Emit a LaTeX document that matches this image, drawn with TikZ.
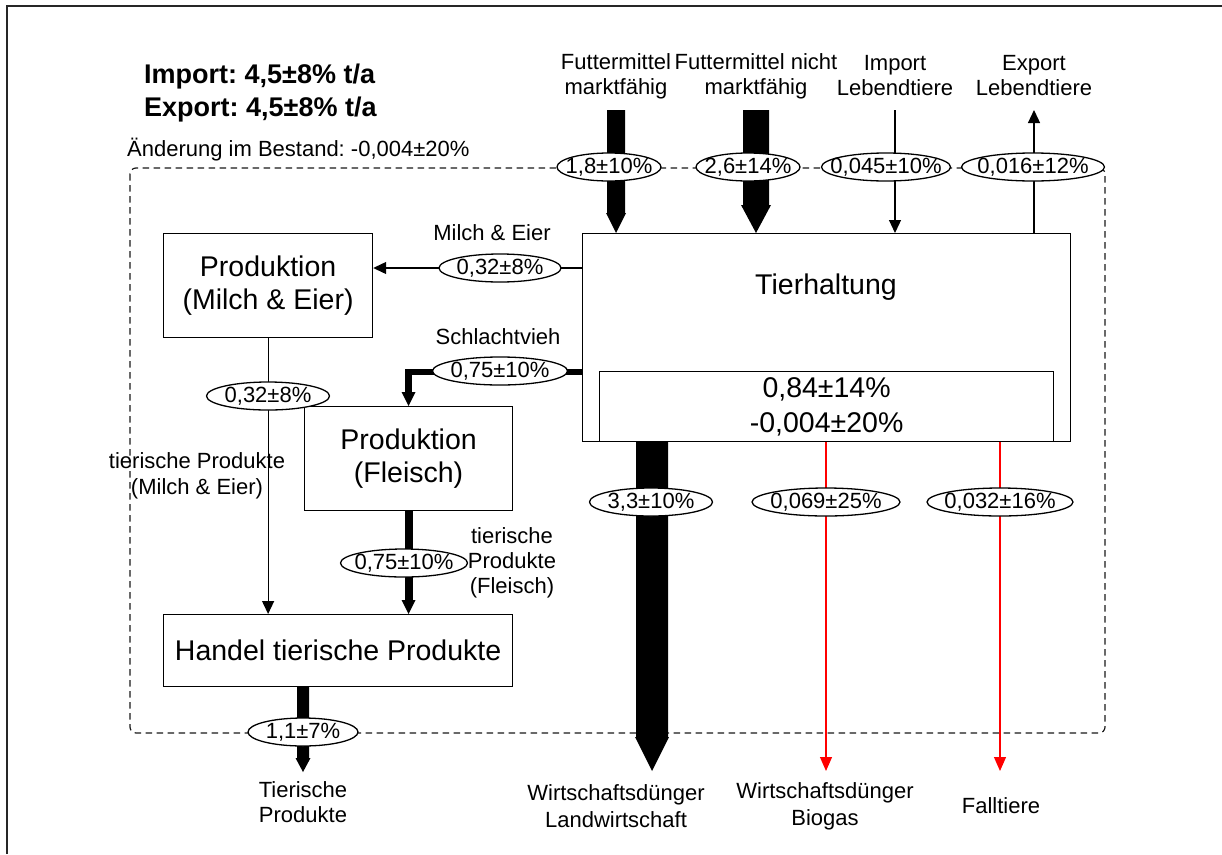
\documentclass[tikz,border=0pt]{standalone}
\usepackage{fontspec}
\setmainfont{Liberation Sans}
\usetikzlibrary{arrows.meta,calc,shapes.geometric}

% downward block arrow: from, to, shaft width, head width, head length
\newcommand\blockdown[5]{%
  \fill let \p1=(#1), \p2=(#2) in
    (\x1-#3/2,\y1) -- (\x1+#3/2,\y1) -- (\x1+#3/2,\y2+#5) -- (\x1+#4/2,\y2+#5)
    -- (\x1,\y2) -- (\x1-#4/2,\y2+#5) -- (\x1-#3/2,\y2+#5) -- cycle;}

\frenchspacing
\begin{document}
\begin{tikzpicture}[x=1pt,y=-1pt,
  lbl/.style={font=\fontsize{22}{25}\selectfont, align=center, inner sep=0pt},
  boxtxt/.style={font=\fontsize{28.5}{33}\selectfont, align=center, inner sep=0pt},
  proc/.style={draw, line width=1.2pt, inner sep=0pt, boxtxt},
  val/.style={ellipse, draw, fill=white, line width=1.3pt, inner xsep=-40pt, inner ysep=-12pt,
    minimum height=28pt, font=\fontsize{22}{25}\selectfont},
  flow/.style={line width=1.2pt, -{Triangle[width=12pt,length=13pt]}},
  loss/.style={red, line width=1.2pt, -{Triangle[width=12pt,length=14pt]}},
  bold/.style={font=\bfseries\fontsize{27}{30}\selectfont, inner sep=0pt, anchor=west},
]
\useasboundingbox (0,0) rectangle (1222,854);

% page frame
\draw[line width=1.3pt, black!85] (7,854) -- (7,6) -- (1222,6);

% system boundary
\draw[line width=1.2pt, black!90, dash pattern=on 6.5pt off 4.5pt, rounded corners=6pt]
  (130,168) rectangle (1105,733);

% processes
\node[proc, anchor=north west, minimum width=488pt, minimum height=208pt] (tier) at (582,233) {};
\node[boxtxt] (tiertxt) at (826,287) {Tierhaltung};
\node[proc, anchor=north west, minimum width=454pt, minimum height=70pt,
  font=\fontsize{28.5}{35}\selectfont] (lager) at (599,371) {0,84±14\%\\-0,004±20\%};
\node[proc, anchor=north west, minimum width=209pt, minimum height=104pt] (pme) at (163,233)
  {Produktion\\(Milch \& Eier)};
\node[proc, anchor=north west, minimum width=208pt, minimum height=104pt] (pfl) at (304,406)
  {Produktion\\(Fleisch)};
\node[proc, anchor=north west, minimum width=349pt, minimum height=72pt] (han) at (163,614)
  {Handel tierische Produkte};

% inflows / outflows at the top
\coordinate (f1) at (616,110);
\coordinate (f2) at (756,110);
\coordinate (imp) at (895,110);
\coordinate (exp) at (1034,110);
\blockdown{f1}{f1 |- tier.north}{18pt}{20pt}{20pt}
\blockdown{f2}{f2 |- tier.north}{26pt}{30pt}{28pt}
\draw[flow] (imp) -- (imp |- tier.north);
\draw[flow] (exp |- tier.north) -- (exp);

% internal flows
\coordinate (me) at (582,268);
\draw[flow] (me) -- (me -| pme.east);
\coordinate (sv) at (582,372);
\draw[line width=6.5pt, -{Triangle[width=14pt,length=14pt,line width=0pt]}]
  (sv) -| (pfl.north);
\draw[flow] (pme.south) -- (pme.south |- han.north);
\draw[line width=8pt, -{Triangle[width=14pt,length=14pt,line width=0pt]}]
  (pfl.south) -- (pfl.south |- han.north);

% outflows at the bottom
\coordinate (tp) at (303,772);
\blockdown{han.south -| tp}{tp}{12pt}{15pt}{14pt}
\coordinate (wl) at (652,771);
\blockdown{tier.south -| wl}{wl}{32pt}{34pt}{34pt}
\coordinate (wb) at (826,771);
\coordinate (ft) at (1000,771);
\draw[loss] (tier.south -| wb) -- (wb);
\draw[loss] (tier.south -| ft) -- (ft);

% flow values
\node[val, minimum width=104pt] (v1) at (609,167) {1,8±10\%};
\node[val, minimum width=104pt] (v2) at (748,167) {2,6±14\%};
\node[val, minimum width=129pt] (v3) at (886,167) {0,045±10\%};
\node[val, minimum width=143pt] (v4) at (1033,167) {0,016±12\%};
\node[val, minimum width=122pt] (vme) at (500,268) {0,32±8\%};
\node[val, minimum width=135pt] (vsv) at (500,371) {0,75±10\%};
\node[val, minimum width=123pt] (vpme) at (268,396) {0,32±8\%};
\node[val, minimum width=127pt] (vfl) at (404,563) {0,75±10\%};
\node[val, minimum width=110pt] (vout) at (303,732) {1,1±7\%};
\node[val, minimum width=123pt] (vwl) at (651,502) {3,3±10\%};
\node[val, minimum width=148pt] (vwb) at (826,502) {0,069±25\%};
\node[val, minimum width=146pt] (vft) at (1000,502) {0,032±16\%};

% flow names
\node[lbl] (lf1) at (616,76) {Futtermittel\\marktfähig};
\node[lbl] (lf2) at (756,76) {Futtermittel nicht\\marktfähig};
\node[lbl] (limp) at (895,76) {Import\\Lebendtiere};
\node[lbl] (lexp) at (1034,76) {Export\\Lebendtiere};
\node[lbl] (lme) at (492,233) {Milch \& Eier};
\node[lbl] (lsv) at (498,337) {Schlachtvieh};
\node[lbl, font=\fontsize{22}{26}\selectfont] (ltpm) at (197,476) {tierische Produkte\\(Milch \& Eier)};
\node[lbl] (ltpf) at (512,563) {tierische\\Produkte\\(Fleisch)};
\node[lbl] (lout) at (303,802.5) {Tierische\\Produkte};
\node[lbl, font=\fontsize{22}{27}\selectfont] (lwl) at (616,806.5) {Wirtschaftsdünger\\Landwirtschaft};
\node[lbl, font=\fontsize{22}{27}\selectfont] (lwb) at (825,806.5) {Wirtschaftsdünger\\Biogas};
\node[lbl] (lft) at (1001,806) {Falltiere};

% balance
\node[bold] (timp) at (144,77) {Import: 4,5±8\% t/a};
\node[bold] (texp) at (144,110) {Export: 4,5±8\% t/a};
\node[lbl, anchor=west] (tbest) at (127,150) {Änderung im Bestand: -0,004±20\%};
\end{tikzpicture}
\end{document}
